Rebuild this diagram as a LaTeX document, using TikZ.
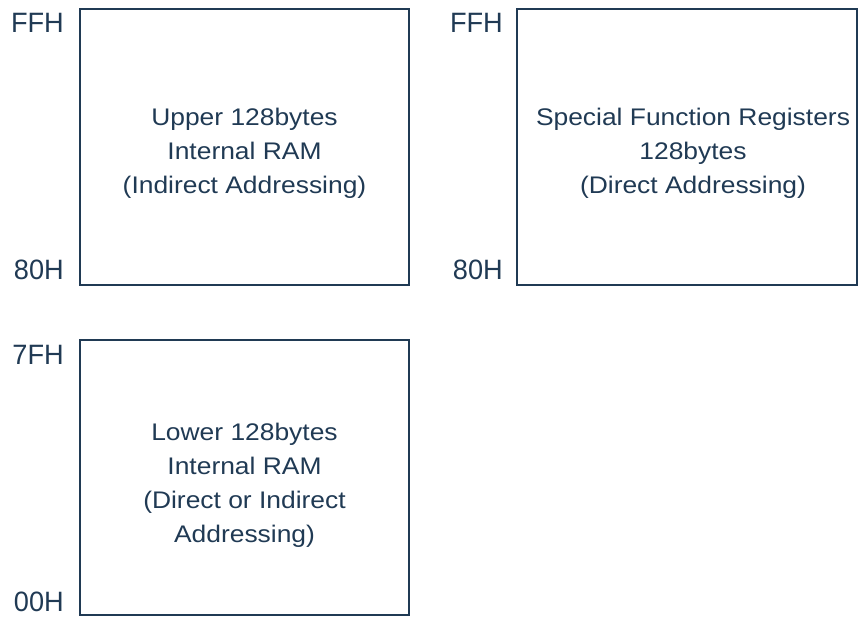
\documentclass[tikz,border=0pt]{standalone}
\usepackage{fontspec}
\setmainfont{Liberation Sans}[FakeStretch=1.1]
\newfontfamily\addrfont{Liberation Sans}[FakeStretch=0.97]
\definecolor{navy}{HTML}{203A54}
\tikzset{
  box/.style={draw=navy, line width=1.4pt},
  addr/.style={anchor=east, text=navy, inner sep=0pt, font=\addrfont\fontsize{28}{32}\selectfont},
  body/.style={align=center, text=navy, inner sep=0pt, font=\fontsize{24}{34}\selectfont}
}
\begin{document}
\begin{tikzpicture}[x=1pt, y=-1pt]
        \useasboundingbox (0,0) rectangle (858,617);
        \draw[box] (80,9) rectangle (409,285);
        \draw[box] (517,9) rectangle (857,285);
        \draw[box] (80,340) rectangle (409,615);

        \node[addr] (upFF) at (64,23) {FFH};
        \node[addr] (up80) at (64,270) {80H};
        \node[addr] (sfrFF) at (503,23) {FFH};
        \node[addr] (sfr80) at (503,270) {80H};
        \node[addr] (lo7F) at (64,355) {7FH};
        \node[addr] (lo00) at (64,602) {00H};

        \node[body] (upper) at (244.5,153.5) {Upper 128bytes\\Internal RAM\\(Indirect Addressing)};
        \node[body] (sfr) at (693,153.5) {Special Function Registers\\128bytes\\(Direct Addressing)};
        \node[body] (lower) at (244.5,485) {Lower 128bytes\\Internal RAM\\(Direct or Indirect\\Addressing)};
\end{tikzpicture}
\end{document}
